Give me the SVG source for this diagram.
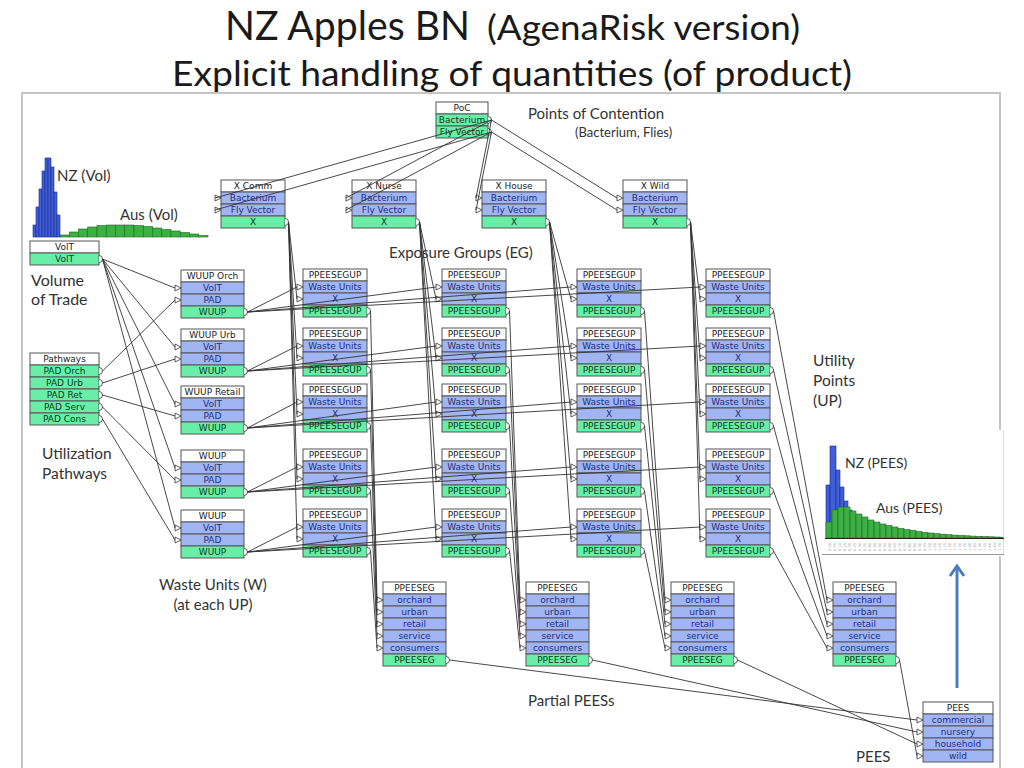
<svg xmlns="http://www.w3.org/2000/svg" xmlns:xlink="http://www.w3.org/1999/xlink" width="1024" height="768" viewBox="0 0 1024 768">
<style>
.lab{font-family:Lato,"Open Sans","Liberation Sans",sans-serif;fill:#333}
.ttl{font-family:Lato,"Open Sans","Liberation Sans",sans-serif;fill:#1a1a1a}
.hd{fill:#fff;stroke:#555;stroke-width:1}
.bl{fill:#a2b5f3;stroke:#555;stroke-width:1}
.gr{fill:#68eea6;stroke:#555;stroke-width:1}
.nt{font-family:"DejaVu Sans",Verdana,sans-serif;font-size:9px;text-anchor:middle}
.th{fill:#222}.tb{fill:#1c2d80}.tg{fill:#0d3a1d}
.pt{fill:#fff;stroke:#333;stroke-width:0.8}
.c path{stroke:#333;stroke-width:0.9;fill:none}
.hb{fill:#3f5fd8;stroke:#1c2a8c;stroke-width:0.6}
.hg{fill:#3cb043;stroke:#1d6b22;stroke-width:0.6}
.tk{font-family:"DejaVu Sans",sans-serif;font-size:3.6px;fill:#999}
.fr{stroke:#c4c4c4;stroke-width:2;fill:none}
</style>
<defs>
<g id="t-ppu">
<rect class="hd" x="0" y="0" width="64" height="12"/>
<rect class="bl" x="0" y="12" width="64" height="12"/>
<rect class="bl" x="0" y="24" width="64" height="12"/>
<rect class="gr" x="0" y="36" width="64" height="12"/>
<text class="nt th" x="32" y="9.3">PPEESEGUP</text>
<text class="nt tb" x="32" y="21.3">Waste Units</text>
<text class="nt tb" x="32" y="33.3">X</text>
<text class="nt tg" x="32" y="45.3">PPEESEGUP</text>
<polygon class="pt" points="-6,15 0,18 -6,21"/>
<polygon class="pt" points="-6,27 0,30 -6,33"/>
<path class="pt" d="M64,38.5a3.5,3.5 0 0 1 0,7"/>
</g>
<g id="t-pps">
<rect class="hd" x="0" y="0" width="63" height="12"/>
<rect class="bl" x="0" y="12" width="63" height="12"/>
<rect class="bl" x="0" y="24" width="63" height="12"/>
<rect class="bl" x="0" y="36" width="63" height="12"/>
<rect class="bl" x="0" y="48" width="63" height="12"/>
<rect class="bl" x="0" y="60" width="63" height="12"/>
<rect class="gr" x="0" y="72" width="63" height="12"/>
<text class="nt th" x="31.5" y="9.3">PPEESEG</text>
<text class="nt tb" x="31.5" y="21.3">orchard</text>
<text class="nt tb" x="31.5" y="33.3">urban</text>
<text class="nt tb" x="31.5" y="45.3">retail</text>
<text class="nt tb" x="31.5" y="57.3">service</text>
<text class="nt tb" x="31.5" y="69.3">consumers</text>
<text class="nt tg" x="31.5" y="81.3">PPEESEG</text>
<polygon class="pt" points="-6,15 0,18 -6,21"/>
<polygon class="pt" points="-6,27 0,30 -6,33"/>
<polygon class="pt" points="-6,39 0,42 -6,45"/>
<polygon class="pt" points="-6,51 0,54 -6,57"/>
<polygon class="pt" points="-6,63 0,66 -6,69"/>
<path class="pt" d="M63,74.5a3.5,3.5 0 0 1 0,7"/>
</g>
<g id="t-x">
<rect class="hd" x="0" y="0" width="64" height="12"/>
<rect class="bl" x="0" y="12" width="64" height="12"/>
<rect class="bl" x="0" y="24" width="64" height="12"/>
<rect class="gr" x="0" y="36" width="64" height="12"/>
<text class="nt tb" x="32" y="21.3">Bacterium</text>
<text class="nt tb" x="32" y="33.3">Fly Vector</text>
<text class="nt tg" x="32" y="45.3">X</text>
<polygon class="pt" points="-6,15 0,18 -6,21"/>
<polygon class="pt" points="-6,27 0,30 -6,33"/>
<path class="pt" d="M64,38.5a3.5,3.5 0 0 1 0,7"/>
</g>
<g id="t-wu">
<rect class="hd" x="0" y="0" width="63" height="12"/>
<rect class="bl" x="0" y="12" width="63" height="12"/>
<rect class="bl" x="0" y="24" width="63" height="12"/>
<rect class="gr" x="0" y="36" width="63" height="12"/>
<text class="nt tb" x="31.5" y="21.3">VolT</text>
<text class="nt tb" x="31.5" y="33.3">PAD</text>
<text class="nt tg" x="31.5" y="45.3">WUUP</text>
<polygon class="pt" points="-6,15 0,18 -6,21"/>
<polygon class="pt" points="-6,27 0,30 -6,33"/>
<path class="pt" d="M63,38.5a3.5,3.5 0 0 1 0,7"/>
</g>
</defs>

<rect width="1024" height="768" fill="#fff"/>

<!-- title -->
<text class="ttl" x="225" y="40" font-size="40" textLength="245" lengthAdjust="spacingAndGlyphs">NZ Apples BN</text>
<text class="ttl" x="487" y="40" font-size="34" textLength="313" lengthAdjust="spacingAndGlyphs">(AgenaRisk version)</text>
<text class="ttl" x="172" y="86" font-size="35" textLength="680" lengthAdjust="spacingAndGlyphs">Explicit handling of quantities (of product)</text>

<!-- frame -->
<path class="fr" d="M22,768V93H1000V768"/>

<!-- left histogram -->
<g id="hist-vol">
<rect class="hg" x="60" y="235" width="9.25" height="2"/>
<rect class="hg" x="69.25" y="232" width="9.25" height="5"/>
<rect class="hg" x="78.5" y="229" width="9.25" height="8"/>
<rect class="hg" x="87.75" y="227" width="9.25" height="10"/>
<rect class="hg" x="97" y="225.5" width="9.25" height="11.5"/>
<rect class="hg" x="106.25" y="225" width="9.25" height="12"/>
<rect class="hg" x="115.5" y="225" width="9.25" height="12"/>
<rect class="hg" x="124.75" y="225" width="9.25" height="12"/>
<rect class="hg" x="134" y="225.5" width="9.25" height="11.5"/>
<rect class="hg" x="143.25" y="226.5" width="9.25" height="10.5"/>
<rect class="hg" x="152.5" y="228" width="9.25" height="9"/>
<rect class="hg" x="161.75" y="229.5" width="9.25" height="7.5"/>
<rect class="hg" x="171" y="231" width="9.25" height="6"/>
<rect class="hg" x="180.25" y="232.5" width="9.25" height="4.5"/>
<rect class="hg" x="189.5" y="234" width="9.25" height="3"/>
<rect class="hg" x="198.75" y="235.5" width="9.25" height="1.5"/>
<rect class="hb" x="33" y="225" width="3" height="12"/>
<rect class="hb" x="36" y="207" width="3" height="30"/>
<rect class="hb" x="39" y="189" width="3" height="48"/>
<rect class="hb" x="42" y="171" width="3" height="66"/>
<rect class="hb" x="45" y="158" width="3" height="79"/>
<rect class="hb" x="48" y="158" width="3" height="79"/>
<rect class="hb" x="51" y="167" width="3" height="70"/>
<rect class="hb" x="54" y="192" width="3" height="45"/>
<rect class="hb" x="57" y="215" width="3" height="22"/>
<text class="lab" x="57" y="181" font-size="15">NZ (Vol)</text>
<text class="lab" x="120" y="220" font-size="15">Aus (Vol)</text>
</g>

<!-- right histogram -->
<g id="hist-pees">
<rect x="822" y="430" width="182" height="126" fill="#fff"/>
<path d="M1003.5,430V556" stroke="#ddd" stroke-width="1"/>
<rect class="hb" x="826" y="485" width="4" height="53"/>
<rect class="hb" x="830" y="446" width="6" height="92"/>
<rect class="hb" x="836" y="470" width="4" height="68"/>
<rect class="hb" x="840" y="487" width="4" height="51"/>
<rect class="hb" x="844" y="501" width="4" height="37"/>
<rect class="hb" x="848" y="510" width="4" height="28"/>
<rect class="hg" x="826" y="522" width="6" height="16"/>
<rect class="hg" x="832" y="510" width="6" height="28"/>
<rect class="hg" x="838" y="507" width="6" height="31"/>
<rect class="hg" x="844" y="507" width="6" height="31"/>
<rect class="hg" x="850" y="511" width="6" height="27"/>
<rect class="hg" x="856" y="514" width="6" height="24"/>
<rect class="hg" x="862" y="517" width="6" height="21"/>
<rect class="hg" x="868" y="520" width="6" height="18"/>
<rect class="hg" x="874" y="522" width="6" height="16"/>
<rect class="hg" x="880" y="524" width="6" height="14"/>
<rect class="hg" x="886" y="525.5" width="6" height="12.5"/>
<rect class="hg" x="892" y="527" width="6" height="11"/>
<rect class="hg" x="898" y="528.5" width="6" height="9.5"/>
<rect class="hg" x="904" y="529.5" width="6" height="8.5"/>
<rect class="hg" x="910" y="530.5" width="6" height="7.5"/>
<rect class="hg" x="916" y="531.5" width="6" height="6.5"/>
<rect class="hg" x="922" y="532.5" width="6" height="5.5"/>
<rect class="hg" x="928" y="533" width="6" height="5"/>
<rect class="hg" x="934" y="533.7" width="6" height="4.3"/>
<rect class="hg" x="940" y="534.2" width="6" height="3.8"/>
<rect class="hg" x="946" y="534.7" width="6" height="3.3"/>
<rect class="hg" x="952" y="535.1" width="6" height="2.9"/>
<rect class="hg" x="958" y="535.5" width="6" height="2.5"/>
<rect class="hg" x="964" y="535.8" width="6" height="2.2"/>
<rect class="hg" x="970" y="536.1" width="6" height="1.9"/>
<rect class="hg" x="976" y="536.4" width="6" height="1.6"/>
<rect class="hg" x="982" y="536.6" width="6" height="1.4"/>
<rect class="hg" x="988" y="536.8" width="6" height="1.2"/>
<rect class="hg" x="994" y="537" width="6" height="1"/>
<rect class="hg" x="1000" y="537.2" width="3" height="0.8"/>
<path d="M825,538.5H1004" stroke="#222" stroke-width="1"/>
<path d="M822,554.5H1004" stroke="#999" stroke-width="1"/>
<g transform="translate(0,551) rotate(-90)">
<text class="tk" x="0" y="830.5">0.00</text><text class="tk" x="0" y="835.5">0.05</text><text class="tk" x="0" y="840.5">0.10</text><text class="tk" x="0" y="845.5">0.15</text><text class="tk" x="0" y="850.5">0.20</text><text class="tk" x="0" y="855.5">0.25</text><text class="tk" x="0" y="860.5">0.30</text><text class="tk" x="0" y="865.5">0.35</text><text class="tk" x="0" y="870.5">0.40</text><text class="tk" x="0" y="875.5">0.45</text><text class="tk" x="0" y="880.5">0.50</text><text class="tk" x="0" y="885.5">0.55</text><text class="tk" x="0" y="890.5">0.60</text><text class="tk" x="0" y="895.5">0.65</text><text class="tk" x="0" y="900.5">0.70</text><text class="tk" x="0" y="905.5">0.75</text><text class="tk" x="0" y="910.5">0.80</text><text class="tk" x="0" y="915.5">0.85</text><text class="tk" x="0" y="920.5">0.90</text><text class="tk" x="0" y="925.5">0.95</text><text class="tk" x="0" y="930.5">1.00</text><text class="tk" x="0" y="935.5">1.05</text><text class="tk" x="0" y="940.5">1.10</text><text class="tk" x="0" y="945.5">1.15</text><text class="tk" x="0" y="950.5">1.20</text><text class="tk" x="0" y="955.5">1.25</text><text class="tk" x="0" y="960.5">1.30</text><text class="tk" x="0" y="965.5">1.35</text><text class="tk" x="0" y="970.5">1.40</text><text class="tk" x="0" y="975.5">1.45</text><text class="tk" x="0" y="980.5">1.50</text><text class="tk" x="0" y="985.5">1.55</text><text class="tk" x="0" y="990.5">1.60</text><text class="tk" x="0" y="995.5">1.65</text><text class="tk" x="0" y="1000.5">1.70</text>
</g>
<text class="lab" x="845" y="468" font-size="14">NZ (PEES)</text>
<text class="lab" x="876" y="513" font-size="14">Aus (PEES)</text>
</g>

<!-- labels -->
<g id="labels">
<text class="lab" x="528" y="119" font-size="15">Points of Contention</text>
<text class="lab" x="575" y="137" font-size="13">(Bacterium, Flies)</text>
<text class="lab" x="31" y="286" font-size="16">Volume</text>
<text class="lab" x="31" y="305" font-size="16">of Trade</text>
<text class="lab" x="389" y="258" font-size="15">Exposure Groups (EG)</text>
<text class="lab" x="813" y="366" font-size="15.5">Utility</text>
<text class="lab" x="813" y="386" font-size="15.5">Points</text>
<text class="lab" x="813" y="406" font-size="15.5">(UP)</text>
<text class="lab" x="42" y="459" font-size="15.5">Utilization</text>
<text class="lab" x="42" y="479" font-size="15.5">Pathways</text>
<text class="lab" x="213" y="590" font-size="15" text-anchor="middle">Waste Units (W)</text>
<text class="lab" x="213" y="610" font-size="15" text-anchor="middle">(at each UP)</text>
<text class="lab" x="528" y="706" font-size="15">Partial PEESs</text>
<text class="lab" x="856" y="762" font-size="15">PEES</text>
</g>

<!-- blue arrow -->
<g id="up-arrow" stroke="#4a7ebb" stroke-width="3" fill="none">
<path d="M957,688V567"/>
<path d="M950,576L957,566L964,576"/>
</g>

<!-- nodes -->
<g id="poc">
<rect class="hd" x="436" y="102" width="52" height="12"/>
<rect class="gr" x="436" y="114" width="52" height="12"/>
<rect class="gr" x="436" y="126" width="52" height="12"/>
<text class="nt th" x="462" y="111.3">PoC</text>
<text class="nt tg" x="462" y="123.3" font-size="8">Bacterium</text>
<text class="nt tg" x="462" y="135.3" font-size="8">Fly Vector</text>
<path class="pt" d="M488,116.5a3.5,3.5 0 0 1 0,7"/>
<path class="pt" d="M488,128.5a3.5,3.5 0 0 1 0,7"/>
</g>
<g id="x-comm"><use xlink:href="#t-x" x="221" y="180"/><text class="nt th" x="253" y="189.3">X Comm</text></g>
<g id="x-nurse"><use xlink:href="#t-x" x="352" y="180"/><text class="nt th" x="384" y="189.3">X Nurse</text></g>
<g id="x-house"><use xlink:href="#t-x" x="482" y="180"/><text class="nt th" x="514" y="189.3">X House</text></g>
<g id="x-wild"><use xlink:href="#t-x" x="623" y="180"/><text class="nt th" x="655" y="189.3">X Wild</text></g>

<g id="volt">
<rect class="hd" x="30" y="241" width="69" height="12"/>
<rect class="gr" x="30" y="253" width="69" height="12"/>
<text class="nt th" x="64.5" y="250.3">VolT</text>
<text class="nt tg" x="64.5" y="262.3">VolT</text>
<path class="pt" d="M99,255.5a3.5,3.5 0 0 1 0,7"/>
</g>

<g id="pathways">
<rect class="hd" x="30" y="353" width="69" height="12"/>
<rect class="gr" x="30" y="365" width="69" height="12"/>
<rect class="gr" x="30" y="377" width="69" height="12"/>
<rect class="gr" x="30" y="389" width="69" height="12"/>
<rect class="gr" x="30" y="401" width="69" height="12"/>
<rect class="gr" x="30" y="413" width="69" height="12"/>
<text class="nt th" x="64.5" y="362.3">Pathways</text>
<text class="nt tg" x="64.5" y="374.3">PAD Orch</text>
<text class="nt tg" x="64.5" y="386.3">PAD Urb</text>
<text class="nt tg" x="64.5" y="398.3">PAD Ret</text>
<text class="nt tg" x="64.5" y="410.3">PAD Serv</text>
<text class="nt tg" x="64.5" y="422.3">PAD Cons</text>
<path class="pt" d="M99,367.5a3.5,3.5 0 0 1 0,7"/>
<path class="pt" d="M99,379.5a3.5,3.5 0 0 1 0,7"/>
<path class="pt" d="M99,391.5a3.5,3.5 0 0 1 0,7"/>
<path class="pt" d="M99,403.5a3.5,3.5 0 0 1 0,7"/>
<path class="pt" d="M99,415.5a3.5,3.5 0 0 1 0,7"/>
</g>

<g id="wuup-orch"><use xlink:href="#t-wu" x="181" y="270"/><text class="nt th" x="212.5" y="279.3">WUUP Orch</text></g>
<g id="wuup-urb"><use xlink:href="#t-wu" x="181" y="329"/><text class="nt th" x="212.5" y="338.3">WUUP Urb</text></g>
<g id="wuup-retail"><use xlink:href="#t-wu" x="181" y="386"/><text class="nt th" x="212.5" y="395.3">WUUP Retail</text></g>
<g id="wuup-serv"><use xlink:href="#t-wu" x="181" y="450"/><text class="nt th" x="212.5" y="459.3">WUUP</text></g>
<g id="wuup-cons"><use xlink:href="#t-wu" x="181" y="510"/><text class="nt th" x="212.5" y="519.3">WUUP</text></g>

<g id="ppu-1-1"><use xlink:href="#t-ppu" x="303" y="269"/></g>
<g id="ppu-1-2"><use xlink:href="#t-ppu" x="303" y="328"/></g>
<g id="ppu-1-3"><use xlink:href="#t-ppu" x="303" y="384"/></g>
<g id="ppu-1-4"><use xlink:href="#t-ppu" x="303" y="449"/></g>
<g id="ppu-1-5"><use xlink:href="#t-ppu" x="303" y="509"/></g>
<g id="ppu-2-1"><use xlink:href="#t-ppu" x="442" y="269"/></g>
<g id="ppu-2-2"><use xlink:href="#t-ppu" x="442" y="328"/></g>
<g id="ppu-2-3"><use xlink:href="#t-ppu" x="442" y="384"/></g>
<g id="ppu-2-4"><use xlink:href="#t-ppu" x="442" y="449"/></g>
<g id="ppu-2-5"><use xlink:href="#t-ppu" x="442" y="509"/></g>
<g id="ppu-3-1"><use xlink:href="#t-ppu" x="577" y="269"/></g>
<g id="ppu-3-2"><use xlink:href="#t-ppu" x="577" y="328"/></g>
<g id="ppu-3-3"><use xlink:href="#t-ppu" x="577" y="384"/></g>
<g id="ppu-3-4"><use xlink:href="#t-ppu" x="577" y="449"/></g>
<g id="ppu-3-5"><use xlink:href="#t-ppu" x="577" y="509"/></g>
<g id="ppu-4-1"><use xlink:href="#t-ppu" x="706" y="269"/></g>
<g id="ppu-4-2"><use xlink:href="#t-ppu" x="706" y="328"/></g>
<g id="ppu-4-3"><use xlink:href="#t-ppu" x="706" y="384"/></g>
<g id="ppu-4-4"><use xlink:href="#t-ppu" x="706" y="449"/></g>
<g id="ppu-4-5"><use xlink:href="#t-ppu" x="706" y="509"/></g>

<g id="pps-1"><use xlink:href="#t-pps" x="383" y="582"/></g>
<g id="pps-2"><use xlink:href="#t-pps" x="526" y="582"/></g>
<g id="pps-3"><use xlink:href="#t-pps" x="671" y="582"/></g>
<g id="pps-4"><use xlink:href="#t-pps" x="833" y="582"/></g>

<g id="pees">
<rect class="hd" x="923" y="702" width="70" height="12"/>
<rect class="bl" x="923" y="714" width="70" height="12"/>
<rect class="bl" x="923" y="726" width="70" height="12"/>
<rect class="bl" x="923" y="738" width="70" height="12"/>
<rect class="bl" x="923" y="750" width="70" height="12"/>
<text class="nt th" x="958" y="711.3">PEES</text>
<text class="nt tb" x="958" y="723.3">commercial</text>
<text class="nt tb" x="958" y="735.3">nursery</text>
<text class="nt tb" x="958" y="747.3">household</text>
<text class="nt tb" x="958" y="759.3">wild</text>
<polygon class="pt" points="917,717 923,720 917,723"/>
<polygon class="pt" points="917,729 923,732 917,735"/>
<polygon class="pt" points="917,741 923,744 917,747"/>
<polygon class="pt" points="917,753 923,756 917,759"/>
</g>

<!-- connectors -->
<g id="connectors" class="c">
<path d="M491.5,120L215,198"/><path d="M491.5,120L346,198"/><path d="M491.5,120L476,198"/><path d="M491.5,120L617,198"/>
<path d="M491.5,132L215,210"/><path d="M491.5,132L346,210"/><path d="M491.5,132L476,210"/><path d="M491.5,132L617,210"/>

<path d="M288.5,222L297,299"/><path d="M288.5,222L297,358"/><path d="M288.5,222L297,414"/><path d="M288.5,222L297,479"/><path d="M288.5,222L297,539"/>
<path d="M419.5,222L436,299"/><path d="M419.5,222L436,358"/><path d="M419.5,222L436,414"/><path d="M419.5,222L436,479"/><path d="M419.5,222L436,539"/>
<path d="M549.5,222L571,299"/><path d="M549.5,222L571,358"/><path d="M549.5,222L571,414"/><path d="M549.5,222L571,479"/><path d="M549.5,222L571,539"/>
<path d="M690.5,222L700,299"/><path d="M690.5,222L700,358"/><path d="M690.5,222L700,414"/><path d="M690.5,222L700,479"/><path d="M690.5,222L700,539"/>

<path d="M102.5,259L175,288"/><path d="M102.5,259L175,347"/><path d="M102.5,259L175,404"/><path d="M102.5,259L175,468"/><path d="M102.5,259L175,528"/>
<path d="M102.5,371L175,300"/><path d="M102.5,383L175,359"/><path d="M102.5,395L175,416"/><path d="M102.5,407L175,480"/><path d="M102.5,419L175,540"/>

<path d="M247.5,312L297,287"/><path d="M247.5,312L436,287"/><path d="M247.5,312L571,287"/><path d="M247.5,312L700,287"/>
<path d="M247.5,371L297,346"/><path d="M247.5,371L436,346"/><path d="M247.5,371L571,346"/><path d="M247.5,371L700,346"/>
<path d="M247.5,428L297,402"/><path d="M247.5,428L436,402"/><path d="M247.5,428L571,402"/><path d="M247.5,428L700,402"/>
<path d="M247.5,492L297,467"/><path d="M247.5,492L436,467"/><path d="M247.5,492L571,467"/><path d="M247.5,492L700,467"/>
<path d="M247.5,552L297,527"/><path d="M247.5,552L436,527"/><path d="M247.5,552L571,527"/><path d="M247.5,552L700,527"/>

<path d="M370.5,311L377,600"/><path d="M370.5,370L377,612"/><path d="M370.5,426L377,624"/><path d="M370.5,491L377,636"/><path d="M370.5,551L377,648"/>
<path d="M509.5,311L520,600"/><path d="M509.5,370L520,612"/><path d="M509.5,426L520,624"/><path d="M509.5,491L520,636"/><path d="M509.5,551L520,648"/>
<path d="M644.5,311L665,600"/><path d="M644.5,370L665,612"/><path d="M644.5,426L665,624"/><path d="M644.5,491L665,636"/><path d="M644.5,551L665,648"/>
<path d="M773.5,311L827,600"/><path d="M773.5,370L827,612"/><path d="M773.5,426L827,624"/><path d="M773.5,491L827,636"/><path d="M773.5,551L827,648"/>

<path d="M449.5,660L917,720"/><path d="M592.5,660L917,732"/><path d="M737.5,660L917,744"/><path d="M899.5,660L917,756"/>
</g>
</svg>
